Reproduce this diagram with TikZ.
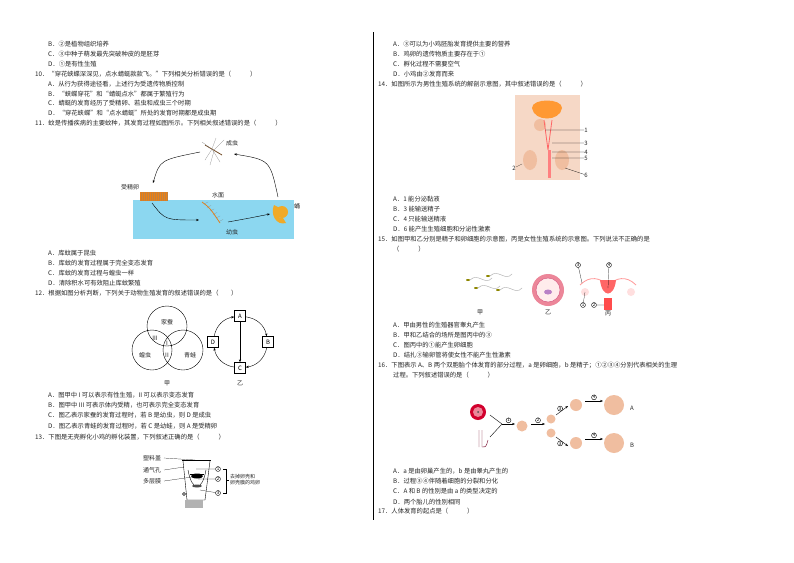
\documentclass[tikz,border=0pt]{standalone}
\usepackage{fontspec}
\setmainfont{Noto Sans CJK SC}
\usetikzlibrary{arrows.meta}
\definecolor{water}{RGB}{140,215,240}
\definecolor{skin}{RGB}{240,190,160}
\definecolor{pupa}{RGB}{240,170,40}
\tikzset{
  tx/.style={anchor=west,inner sep=0pt,font=\fontsize{6.3}{7}\selectfont,text=black!85},
  lb/.style={inner sep=0pt,font=\fontsize{6}{7}\selectfont,text=black!85},
  arr/.style={-{Stealth[length=3pt]},thin},
  bx/.style={draw,thin,minimum size=11pt,inner sep=0pt,font=\fontsize{6}{7}\selectfont},
  cn/.style={draw,circle,inner sep=0.3pt,font=\fontsize{4.5}{5}\selectfont}
}
\begin{document}
\begin{tikzpicture}[x=1pt,y=-1pt]
\useasboundingbox[fill=white] (0,0) rectangle (794,562);
\draw[thin] (373,32) -- (373,520);
% left column
\node[tx] (l1) at (48,44) {B．②是植物组织培养};
\node[tx] (l2) at (48,54) {C．③中种子萌发最先突破种皮的是胚芽};
\node[tx] (l3) at (48,64) {D．①是有性生殖};
\node[tx] (l4) at (35,74) {10．“穿花蛱蝶深深见，点水蜻蜓款款飞。”下列相关分析错误的是（\hspace{3em}）};
\node[tx] (l5) at (48,84) {A．从行为获得途径看，上述行为受遗传物质控制};
\node[tx] (l6) at (48,94) {B．“蛱蝶穿花”和“蜻蜓点水”都属于繁殖行为};
\node[tx] (l7) at (48,103) {C．蜻蜓的发育经历了受精卵、若虫和成虫三个时期};
\node[tx] (l8) at (48,113) {D．“穿花蛱蝶”和“点水蜻蜓”所处的发育时期都是成虫期};
\node[tx] (l9) at (35,123) {11．蚊是传播疾病的主要蚊种，其发育过程如图所示。下列相关叙述错误的是（\hspace{3em}）};
% mosquito figure
\fill[water] (133,200) rectangle (294,239);
\node[lb] (adult) at (214,150) {};
\draw[brown!60!black,thick] (205,145) -- (222,155);
\draw[gray,very thin] (212,149) -- (205,160) (212,149) -- (220,162) (214,151) -- (210,165) (210,148) -- (202,142) (214,150) -- (224,140) (212,149) -- (216,138);
\node[lb] (adultl) at (232,143) {成虫};
\node[lb] (eggl) at (130,187) {受精卵};
\fill[orange!70!brown] (140,192) rectangle (168,201);
\foreach \i in {141,143,...,167} \draw[brown,very thin] (\i,192) -- (\i,201);
\coordinate (egg) at (154,196);
\node[lb] (surf) at (218,195) {水面};
\draw[orange!60!brown,thick] (202,202) .. controls (210,208) .. (220,223);
\foreach \i in {0,...,5} \draw[gray,very thin] (204+3*\i,204+3.5*\i) -- +(4,-2);
\coordinate (larva) at (211,214);
\node[lb] (larval) at (232,232) {幼虫};
\fill[pupa] (282,212) circle (6);
\fill[pupa] (274,205) .. controls (270,214) and (276,226) .. (286,223) -- (283,218) .. controls (278,218) .. (280,208) -- cycle;
\coordinate (pupa) at (281,212);
\node[lb] (pupal) at (297,206) {蛹};
\draw[arr] (200,152) .. controls (160,160) .. (153,183);
\draw[arr] (152,203) .. controls (165,220) .. (199,220);
\draw[arr] (228,222) .. controls (250,218) .. (270,214);
\draw[arr] (278,197) .. controls (270,160) .. (234,154);
\node[tx] (l10) at (48,253) {A．库蚊属于昆虫};
\node[tx] (l11) at (48,263) {B．库蚊的发育过程属于完全变态发育};
\node[tx] (l12) at (48,273) {C．库蚊的发育过程与蝗虫一样};
\node[tx] (l13) at (48,283) {D．清除积水可有效阻止库蚊繁殖};
\node[tx] (l14) at (35,293) {12．根据如图分析判断，下列关于动物生殖发育的叙述错误的是（\hspace{2em}）};
% venn
\draw[thin] (167,326) circle (20) (152,350) circle (20) (183,350) circle (20);
\node[lb] (v1) at (167,322) {家蚕};
\node[lb] (v2) at (145,355) {蝗虫};
\node[lb] (v3) at (190,355) {青蛙};
\node[lb] (v4) at (155,338) {III};
\node[lb] (v5) at (167,343) {I};
\node[lb] (v6) at (167,355) {II};
\node[lb] (jia) at (167,383) {甲};
\node[bx] (A) at (240,316) {A};
\node[bx] (B) at (268,342) {B};
\node[bx] (C) at (240,368) {C};
\node[bx] (D) at (213,342) {D};
\draw[arr] (A) to[bend left=35] (B);
\draw[arr] (B) to[bend left=35] (C);
\draw[arr] (C) to[bend left=35] (D);
\draw[arr] (D) to[bend left=35] (A);
\draw[arr] (A) -- (C);
\node[lb] (yi) at (240,383) {乙};
\node[tx] (l15) at (48,395) {A．图甲中 I 可以表示有性生殖，II 可以表示变态发育};
\node[tx] (l16) at (48,405) {B．图甲中 III 可表示体内受精，也可表示完全变态发育};
\node[tx] (l17) at (48,415) {C．图乙表示家蚕的发育过程时，若 B 是幼虫，则 D 是成虫};
\node[tx] (l18) at (48,426) {D．图乙表示青蛙的发育过程时，若 C 是幼蛙，则 A 是受精卵};
\node[tx] (l19) at (35,437) {13．下图是无壳孵化小鸡的孵化装置，下列叙述正确的是（\hspace{3em}）};
% incubator
\draw[thin] (182,460) -- (211,460);
\draw[thin] (183,461) -- (187,500) -- (205,500) -- (210,461);
\fill[gray!60] (185,500) rectangle (203,508);
\draw[thin] (188,470) .. controls (192,492) and (202,492) .. (206,470);
\fill[black] (197,476) ellipse (6 and 2.5);
\draw[thin] (190,474) -- (204,474);
\fill[black!70] (197,486) ellipse (5 and 1.5);
\draw[thin] (184,494) circle (1.5);
\node[lb] (s1) at (152,458) {塑料盖};
\node[lb] (s2) at (152,470) {通气孔};
\node[lb] (s3) at (152,481) {多层膜};
\draw[very thin] (164,458) -- (195,460);
\draw[very thin] (164,470) -- (184,467);
\draw[very thin] (164,481) -- (192,477);
\node[cn] (c1) at (218,469) {1};
\node[cn] (c2) at (218,479) {2};
\node[cn] (c3) at (218,493) {3};
\draw[very thin] (196,469) -- (c1) (198,479) -- (c2) (200,490) -- (c3);
\draw[very thin] (223,469) -- (226,469) -- (226,493) -- (223,493) (226,480) -- (229,480);
\node[lb,anchor=west,align=left,font=\fontsize{5}{6}\selectfont] (s4) at (230,480) {去掉卵壳和\\卵壳膜的鸡卵};
% right column
\node[tx] (r1) at (393,44) {A．③可以为小鸡胚胎发育提供主要的营养};
\node[tx] (r2) at (393,54) {B．鸡卵的遗传物质主要存在于①};
\node[tx] (r3) at (393,64) {C．孵化过程不需要空气};
\node[tx] (r4) at (393,74) {D．小鸡由②发育而来};
\node[tx] (r5) at (378,84) {14．如图所示为男性生殖系统的解剖示意图，其中叙述错误的是（\hspace{3em}）};
% male figure
\fill[skin!60] (515,95) rectangle (580,180);
\fill[orange!80] (532,108) .. controls (532,98) and (562,98) .. (562,108) .. controls (560,122) and (534,122) .. (532,108);
\fill[skin] (540,125) circle (6);
\draw[red!60,thick] (544,120) -- (548,150) (552,120) -- (548,150);
\fill[skin] (530,160) ellipse (7 and 10);
\fill[skin] (562,160) ellipse (7 and 10);
\fill[red!50] (548,150) rectangle (551,178);
\node[lb] (m1) at (586,130) {1};
\node[lb] (m3) at (586,143) {3};
\node[lb] (m4) at (586,152) {4};
\node[lb] (m5) at (586,158) {5};
\node[lb] (m6) at (586,175) {6};
\node[lb] (m2) at (514,168) {2};
\draw[very thin] (545,130) -- (m1) (552,143) -- (m3) (552,152) -- (m4) (552,158) -- (m5) (565,168) -- (m6) (522,164) -- (m2);
\node[tx] (r6) at (393,199) {A．1 能分泌黏液};
\node[tx] (r7) at (393,209) {B．3 能输送精子};
\node[tx] (r8) at (393,219) {C．4 只能输送精液};
\node[tx] (r9) at (393,229) {D．6 能产生生殖细胞和分泌性激素};
\node[tx] (r10) at (378,239) {15．如图甲和乙分别是精子和卵细胞的示意图，丙是女性生殖系统的示意图。下列说法不正确的是};
\node[tx] (r11) at (393,249) {（\hspace{3em}）};
% sperm
\foreach \a/\b in {470/280,478/288,490/276,500/290}
  \draw[gray!70,thin] (\a,\b) .. controls (\a+8,\b-8) and (\a+15,\b+6) .. (\a+22,\b-2);
\fill[olive] (468,280) ellipse (2 and 1) (476,288) ellipse (2 and 1) (488,276) ellipse (2 and 1) (498,290) ellipse (2 and 1);
\node[lb] (jia2) at (480,312) {甲};
% ovum
\fill[pink!70!purple] (548,290) circle (16);
\fill[pink!30] (548,290) circle (12);
\draw[purple!70] (548,290) circle (12);
\fill[blue!40!purple!50] (548,292) ellipse (4 and 2.5);
\node[lb] (yi2) at (548,312) {乙};
% uterus
\draw[red!40,thick] (580,285) .. controls (590,275) and (600,278) .. (608,285) .. controls (616,278) and (626,275) .. (636,285);
\fill[red!60] (600,280) .. controls (602,298) and (614,298) .. (616,280) -- cycle;
\fill[red!70] (604,298) rectangle (612,310);
\fill[pink!50] (585,292) circle (4) (631,292) circle (4);
\node[cn] (u3) at (578,265) {3};
\node[cn] (u4) at (609,265) {4};
\node[cn] (u1) at (583,305) {1};
\node[cn] (u2) at (594,305) {2};
\draw[very thin] (u3) -- (582,283) (u4) -- (608,288) (u1) -- (585,292) (u2) -- (604,305);
\node[lb] (bing) at (608,313) {丙};
\node[tx] (r12) at (393,325) {A．甲由男性的生殖器官睾丸产生};
\node[tx] (r13) at (393,335) {B．甲和乙结合的场所是图丙中的③};
\node[tx] (r14) at (393,345) {C．图丙中的①能产生卵细胞};
\node[tx] (r15) at (393,355) {D．结扎③输卵管将使女性不能产生性激素};
\node[tx] (r16) at (378,365) {16．下图表示 A、B 两个双胞胎个体发育的部分过程，a 是卵细胞，b 是精子；①②③④分别代表相关的生理};
\node[tx] (r17) at (393,375) {过程。下列叙述错误的是（\hspace{3em}）};
% twins
\fill[purple!70!red] (478,412) circle (8);
\fill[pink!70!purple] (478,412) circle (5);
\fill[black!70] (478,412) circle (1);
\draw[purple!60!black,thin] (479,430) -- (479,447) (482,430) -- (482,447) .. controls (486,447) .. (488,440);
\coordinate (join) at (502,424);
\draw[thin] (490,415) -- (join) (490,437) -- (join);
\fill[skin] (522,426) circle (5.5);
\fill[skin] (551,419) circle (4.5) (551,433) circle (4.5);
\draw[arr] (join) -- node[cn,above=1pt] {1} (515,424);
\draw[arr] (531,424) -- node[cn,above=1pt] {2} (545,424);
\draw[arr] (556,415) -- node[cn,above left=0pt] {3} (568,406);
\draw[arr] (556,437) -- node[cn,below left=0pt] {3} (568,446);
\fill[skin] (576,405) circle (6) (576,443) circle (6);
\fill[skin] (614,405) circle (10) (614,443) circle (10);
\draw[arr] (585,401) -- node[cn,above=1pt] {4} (603,401);
\draw[arr] (585,439) -- node[cn,above=1pt] {4} (603,439);
\node[lb] (tA) at (632,408) {A};
\node[lb] (tB) at (632,445) {B};
\node[tx] (r18) at (393,471) {A．a 是由卵巢产生的，b 是由睾丸产生的};
\node[tx] (r19) at (393,481) {B．过程③④伴随着细胞的分裂和分化};
\node[tx] (r20) at (393,491) {C．A 和 B 的性别是由 a 的类型决定的};
\node[tx] (r21) at (393,502) {D．两个胎儿的性别相同};
\node[tx] (r22) at (378,511) {17．人体发育的起点是（\hspace{3em}）};
\end{tikzpicture}
\end{document}
